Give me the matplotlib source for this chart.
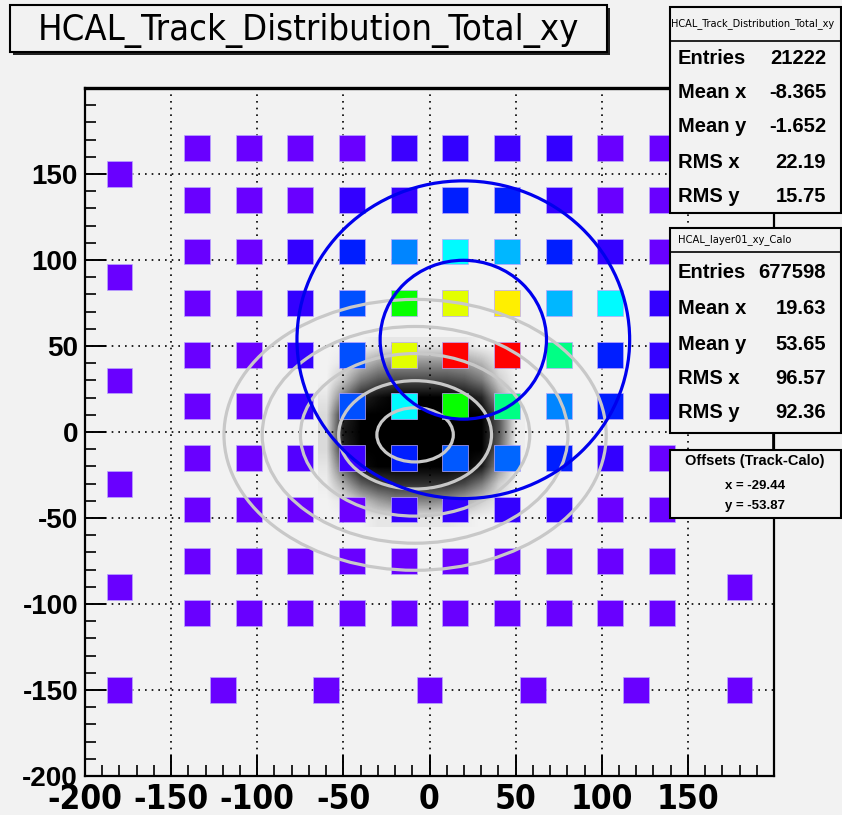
import numpy as np
import matplotlib
matplotlib.use('Agg')
import matplotlib.pyplot as plt
from matplotlib.patches import Rectangle, Ellipse
from matplotlib.colors import LinearSegmentedColormap, hsv_to_rgb

W, H = 842, 815
BG = '#f2f2f2'

# calorimeter cells: centre positions and occupancy (% of the hottest cell)
grid_x = [-135, -105, -75, -45, -15, 15, 45, 75, 105, 135]
grid_y = [165, 135, 105, 75, 45, 15, -15, -45, -75, -105]
occupancy = [
    [2, 2, 2, 2, 6, 7, 6, 7, 2, 2],
    [2, 2, 2, 7, 7, 14, 14, 7, 2, 2],
    [2, 2, 7, 14, 23, 33, 27, 14, 7, 2],
    [2, 2, 7, 18, 56, 75, 79, 27, 33, 7],
    [2, 2, 7, 18, 75, 100, 100, 44, 14, 7],
    [2, 2, 7, 18, 33, 56, 44, 23, 14, 7],
    [2, 2, 4, 6, 14, 19, 20, 14, 7, 2],
    [2, 2, 2, 2, 7, 7, 7, 7, 2, 2],
    [2, 2, 2, 2, 2, 2, 2, 2, 2, 2],
    [2, 2, 2, 2, 2, 2, 2, 2, 2, 2],
]
# outer (coarse) cells
edge_x = [-180, -180, -180, -180, -180, -180, 180, 180, -120, -60, 0, 60, 120]
edge_y = [150, 90, 30, -30, -90, -150, -90, -150, -150, -150, -150, -150, -150]
edge_occ = [2, 2, 2, 2, 2, 2, 2, 2, 2, 2, 2, 2, 2]
cell_size = 15

# track hit density (0 = empty, 1 = fully black), read on a 10 mm grid
dens_x = [-60, -50, -40, -30, -20, -10, 0, 10, 20, 30, 40, 50]
dens_y = [50, 40, 30, 20, 10, 0, -10, -20, -30, -40, -50]
density = [
    [0, 0, 0, 0.05, 0.05, 0.05, 0.05, 0.05, 0.05, 0, 0, 0],
    [0, 0.05, 0.2, 0.35, 0.4, 0.4, 0.4, 0.4, 0.35, 0.25, 0.05, 0],
    [0, 0.2, 0.5, 0.65, 0.7, 0.7, 0.7, 0.7, 0.65, 0.5, 0.15, 0],
    [0.05, 0.5, 0.85, 0.95, 1, 1, 1, 1, 0.95, 0.85, 0.35, 0],
    [0.1, 0.85, 1, 1, 1, 1, 1, 1, 1, 1, 0.65, 0.02],
    [0.1, 0.9, 1, 1, 1, 1, 1, 1, 1, 1, 0.65, 0.02],
    [0.1, 0.85, 1, 1, 1, 1, 1, 1, 1, 1, 0.6, 0.02],
    [0.05, 0.6, 0.95, 1, 1, 1, 1, 1, 1, 0.9, 0.4, 0],
    [0.02, 0.3, 0.6, 0.75, 0.8, 0.8, 0.8, 0.8, 0.7, 0.5, 0.15, 0],
    [0, 0.05, 0.2, 0.35, 0.45, 0.45, 0.45, 0.4, 0.3, 0.15, 0.05, 0],
    [0, 0, 0, 0.05, 0.05, 0.05, 0.05, 0.05, 0.02, 0, 0, 0],
]

# statistics boxes
track_stats = {'Entries': '21222', 'Mean x': '-8.365', 'Mean y': '-1.652',
               'RMS x': '22.19', 'RMS y': '15.75'}
calo_stats = {'Entries': '677598', 'Mean x': '19.63', 'Mean y': '53.65',
              'RMS x': '96.57', 'RMS y': '92.36'}
track_mean = (-8.365, -1.652)
track_rms = (22.19, 15.75)
calo_mean = (19.63, 53.65)
calo_rms = (96.57, 92.36)
track_sigmas = [1, 2, 3, 4, 5]
calo_sigmas = [0.5, 1]
offset_x, offset_y = -29.44, -53.87

ticks = [-200, -150, -100, -50, 0, 50, 100, 150]


def px_rect(x0, y0, x1, y1, **kw):
    return Rectangle((x0 / W, 1 - y1 / H), (x1 - x0) / W, (y1 - y0) / H,
                     transform=fig.transFigure, **kw)


def px_text(x, y, s, **kw):
    fig.text(x / W, 1 - y / H, s, **kw)


# ROOT-like rainbow palette: violet -> red
hues = np.linspace(270, 0, 256) / 360.0
palette = LinearSegmentedColormap.from_list(
    'root', [hsv_to_rgb((h, 1, 1)) for h in hues])
black_alpha = LinearSegmentedColormap.from_list(
    'blk', [(0, 0, 0, 0), (0, 0, 0, 1)])

cond = dict(fontfamily=['DejaVu Sans'], fontstretch='condensed')

fig = plt.figure(figsize=(W / 100, H / 100), dpi=100, facecolor=BG)
ax = fig.add_axes([85 / W, 1 - 776 / H, (774 - 85) / W, (776 - 88) / H])
ax.set_facecolor(BG)

# dotted grid
for t in ticks[1:]:
    ax.axvline(t, color='black', lw=1.2, ls=(0, (1, 3)), zorder=0.5)
    ax.axhline(t, color='black', lw=1.2, ls=(0, (1, 3)), zorder=0.5)

# track hits
ax.imshow(np.array(density), cmap=black_alpha, vmin=0, vmax=1,
          interpolation='bilinear', aspect='auto', zorder=1,
          extent=[dens_x[0] - 5, dens_x[-1] + 5, dens_y[-1] - 5, dens_y[0] + 5])

# calorimeter cells
half = cell_size / 2
for j, y in enumerate(grid_y):
    for i, x in enumerate(grid_x):
        c = palette(occupancy[j][i] / 100)
        ax.add_patch(Rectangle((x - half, y - half), cell_size, cell_size,
                               fc=c, ec='#b9a6ff', lw=0.5, zorder=2))
for x, y, o in zip(edge_x, edge_y, edge_occ):
    ax.add_patch(Rectangle((x - half, y - half), cell_size, cell_size,
                           fc=palette(o / 100), ec='#b9a6ff', lw=0.5, zorder=2))

# sigma contours
for k in track_sigmas:
    ax.add_patch(Ellipse(track_mean, 2 * k * track_rms[0], 2 * k * track_rms[1],
                         fill=False, ec='#c8c8c8', lw=2.3, zorder=3))
for k in calo_sigmas:
    ax.add_patch(Ellipse(calo_mean, 2 * k * calo_rms[0], 2 * k * calo_rms[1],
                         fill=False, ec='#0000ee', lw=2.3, zorder=4))

ax.set_xlim(-200, 200)
ax.set_ylim(-200, 200)

# axes styling
for s in ax.spines.values():
    s.set_linewidth(1.6)
ax.spines['top'].set_linewidth(2.4)
ax.set_xticks(ticks)
ax.set_yticks(ticks)
ax.set_xticks(np.arange(-200, 201, 10), minor=True)
ax.set_yticks(np.arange(-200, 201, 10), minor=True)
ax.tick_params(which='both', direction='in', top=False, right=False)
ax.tick_params(which='major', length=15, width=1.4)
ax.tick_params(which='minor', length=8, width=1.2)
ax.tick_params(axis='y', pad=5)
ax.tick_params(axis='x', pad=5)
ax.set_xticklabels([str(t) for t in ticks], fontweight='bold', fontsize=24, **cond)
ax.set_yticklabels([str(t) for t in ticks], fontfamily=['Liberation Sans', 'DejaVu Sans'],
                   fontweight='bold', fontsize=20)

# title box
fig.patches.append(px_rect(13, 8, 610, 55, fc='#222222', ec='none'))
fig.patches.append(px_rect(10, 5, 607, 52, fc=BG, ec='black', lw=1.5))
px_text(308, 30, 'HCAL_Track_Distribution_Total_xy', ha='center', va='center',
        fontsize=26, fontweight='medium', **cond)

# stats box: tracks
bold = dict(fontfamily=['Liberation Sans', 'DejaVu Sans'], fontweight='bold')
fig.patches.append(px_rect(670, 7, 841, 213, fc=BG, ec='black', lw=1.5, zorder=5))
fig.lines.append(plt.Line2D([670 / W, 841 / W], [1 - 41 / H, 1 - 41 / H],
                            transform=fig.transFigure, color='black', lw=1.2, zorder=6))
px_text(671, 24, 'HCAL_Track_Distribution_Total_xy', ha='left', va='center',
        fontsize=7.8, zorder=6, **cond)
rows1 = [59, 93, 127, 162, 196]
for yy, (k, v) in zip(rows1, track_stats.items()):
    px_text(678, yy, k, ha='left', va='center', fontsize=14.5, zorder=6, **bold)
    px_text(826, yy, v, ha='right', va='center', fontsize=14.5, zorder=6, **bold)

# stats box: calo
fig.patches.append(px_rect(670, 228, 841, 433, fc=BG, ec='black', lw=1.5, zorder=5))
fig.lines.append(plt.Line2D([670 / W, 841 / W], [1 - 252 / H, 1 - 252 / H],
                            transform=fig.transFigure, color='black', lw=1.2, zorder=6))
px_text(678, 240, 'HCAL_layer01_xy_Calo', ha='left', va='center',
        fontsize=8, zorder=6, **cond)
rows2 = [273, 309, 344, 379, 413]
for yy, (k, v) in zip(rows2, calo_stats.items()):
    px_text(678, yy, k, ha='left', va='center', fontsize=14.5, zorder=6, **bold)
    px_text(826, yy, v, ha='right', va='center', fontsize=14.5, zorder=6, **bold)

# offsets box
fig.lines.append(plt.Line2D([773 / W, 773 / W], [1 - 433 / H, 1 - 450 / H],
                            transform=fig.transFigure, color='black', lw=1.2, zorder=6))
fig.patches.append(px_rect(670, 450, 841, 518, fc=BG, ec='black', lw=1.5, zorder=5))
px_text(755, 461, 'Offsets (Track-Calo)', ha='center', va='center',
        fontsize=10.5, zorder=6, **bold)
px_text(755, 486, 'x = %.2f' % offset_x, ha='center', va='center',
        fontsize=9.5, zorder=6, **bold)
px_text(755, 506, 'y = %.2f' % offset_y, ha='center', va='center',
        fontsize=9.5, zorder=6, **bold)

fig.savefig('out.png', dpi=100, facecolor=BG)
